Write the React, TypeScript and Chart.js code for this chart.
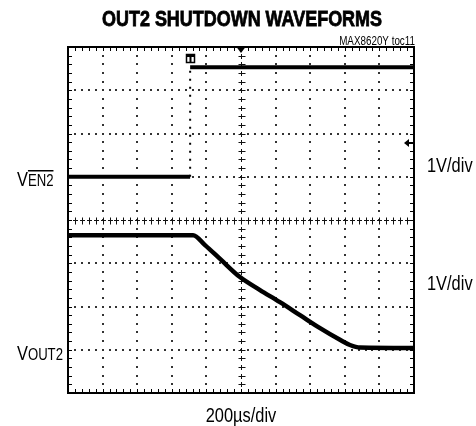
import { useEffect, useRef } from 'react';
import { Chart, registerables } from 'chart.js';

Chart.register(...registerables);

// ---- Data (time in µs from left edge of screen, values in volts) ----
const TIME_PER_DIV_US = 200;
const X_DIVS = 10;
const Y_DIVS = 8;
const VOLTS_PER_DIV = 1;

// V_EN2 channel (ground at 5 div from bottom)
const EN2_GROUND_DIV = 5;
const en2Time = [0, 706, 706, 2000];
const en2Volts = [0, 0, 2.53, 2.53];

// V_OUT2 channel (ground at 1 div from bottom)
const OUT2_GROUND_DIV = 1;
const out2Time = [0, 723, 792, 879, 994, 1110, 1225, 1341, 1457, 1572, 1630, 1688, 2000];
const out2Volts = [2.65, 2.65, 2.42, 2.1, 1.68, 1.38, 1.1, 0.8, 0.5, 0.23, 0.11, 0.05, 0.04];

// Labels
const TITLE = 'OUT2 SHUTDOWN WAVEFORMS';
const TOC = 'MAX8620Y toc11';
const X_LABEL = '200µs/div';
const SCALE_LABELS = ['1V/div', '1V/div'];

const SANS = '"Liberation Sans", Arial, sans-serif';
const NARROW_X = 0.82;

function toPoints(t: number[], v: number[], ground: number) {
  return t.map((x, i) => ({ x, y: ground + v[i] / VOLTS_PER_DIV }));
}

function narrowText(ctx: any, text: string, x: number, y: number, font: string, align: string, sx = NARROW_X, stroke = 0) {
  ctx.save();
  ctx.font = font;
  ctx.textAlign = 'left';
  const w = ctx.measureText(text).width * sx;
  let left = x;
  if (align === 'center') left = x - w / 2;
  else if (align === 'right') left = x - w;
  ctx.translate(left, y);
  ctx.scale(sx, 1);
  ctx.fillText(text, 0, 0);
  if (stroke > 0) {
    ctx.lineWidth = stroke;
    ctx.strokeStyle = '#000';
    ctx.strokeText(text, 0, 0);
  }
  ctx.restore();
  return w;
}

const scopePlugin = {
  id: 'scope',
  beforeDatasetsDraw(chart: any) {
    const { ctx, scales } = chart;
    const xs = scales.x;
    const ys = scales.y;
    const px = (d: number) => xs.getPixelForValue(d * TIME_PER_DIV_US);
    const py = (d: number) => ys.getPixelForValue(d);
    ctx.save();
    ctx.fillStyle = '#333';
    for (let i = 1; i < X_DIVS; i++) {
      if (i === X_DIVS / 2) continue;
      const x = Math.round(px(i));
      for (let k = 1; k < Y_DIVS * 5; k++) {
        const y = Math.round(py(k / 5));
        ctx.fillRect(x - 1, y - 1, 2, 2);
      }
    }
    for (let j = 1; j < Y_DIVS; j++) {
      if (j === Y_DIVS / 2) continue;
      const y = Math.round(py(j));
      for (let k = 1; k < X_DIVS * 5; k++) {
        const x = Math.round(px(k / 5));
        ctx.fillRect(x - 1, y - 1, 2, 2);
      }
    }
    ctx.strokeStyle = '#111';
    ctx.lineWidth = 1;
    const cx = Math.round(px(X_DIVS / 2)) + 0.5;
    const cy = Math.round(py(Y_DIVS / 2)) + 0.5;
    ctx.beginPath();
    for (let k = 1; k < X_DIVS * 5; k++) {
      const x = Math.round(px(k / 5)) + 0.5;
      ctx.moveTo(x, cy - 3);
      ctx.lineTo(x, cy + 4);
      ctx.moveTo(x - 2.5, cy);
      ctx.lineTo(x + 2.5, cy);
    }
    for (let k = 1; k < Y_DIVS * 5; k++) {
      const y = Math.round(py(k / 5)) + 0.5;
      ctx.moveTo(cx - 3, y);
      ctx.lineTo(cx + 4, y);
      ctx.moveTo(cx, y - 2.5);
      ctx.lineTo(cx, y + 2.5);
    }
    ctx.stroke();
    ctx.restore();
  },
  afterDatasetsDraw(chart: any) {
    const { ctx, chartArea: a, scales } = chart;
    const xs = scales.x;
    const ys = scales.y;
    const px = (d: number) => xs.getPixelForValue(d * TIME_PER_DIV_US);
    const py = (d: number) => ys.getPixelForValue(d);
    ctx.save();
    ctx.strokeStyle = '#000';
    ctx.lineWidth = 2;
    ctx.strokeRect(a.left, a.top, a.right - a.left, a.bottom - a.top);
    ctx.lineWidth = 1;
    ctx.beginPath();
    for (let k = 1; k < X_DIVS * 5; k++) {
      const x = Math.round(px(k / 5)) + 0.5;
      ctx.moveTo(x, a.top);
      ctx.lineTo(x, a.top + 4);
      ctx.moveTo(x, a.bottom);
      ctx.lineTo(x, a.bottom - 4);
    }
    for (let k = 1; k < Y_DIVS * 5; k++) {
      const y = Math.round(py(k / 5)) + 0.5;
      ctx.moveTo(a.left, y);
      ctx.lineTo(a.left + 4, y);
      ctx.moveTo(a.right, y);
      ctx.lineTo(a.right - 4, y);
    }
    ctx.stroke();

    ctx.fillStyle = '#000';
    const tx = px(X_DIVS / 2);
    ctx.beginPath();
    ctx.moveTo(tx - 4.5, a.top);
    ctx.lineTo(tx + 4.5, a.top);
    ctx.lineTo(tx, a.top + 6);
    ctx.closePath();
    ctx.fill();
    const ex = Math.round(xs.getPixelForValue(en2Time[1]));
    ctx.lineWidth = 1.5;
    ctx.strokeRect(ex - 3.5, a.top + 7.5, 8, 8);
    ctx.fillRect(ex - 3, a.top + 8, 7, 2);
    ctx.fillRect(ex - 0.5, a.top + 8, 2, 7);
    const ay = Math.round(py(EN2_GROUND_DIV + 0.78));
    ctx.beginPath();
    ctx.moveTo(a.right - 10, ay);
    ctx.lineTo(a.right - 5, ay - 4);
    ctx.lineTo(a.right - 5, ay + 4);
    ctx.closePath();
    ctx.fill();
    ctx.fillRect(a.right - 6, ay - 1, 6, 2);

    ctx.textBaseline = 'alphabetic';
    ctx.fillStyle = '#000';
    ctx.font = `bold 22px ${SANS}`;
    const tw = ctx.measureText(TITLE).width;
    narrowText(ctx, TITLE, 242, 26, `bold 22px ${SANS}`, 'center', 280 / tw, 0.8);
    narrowText(ctx, TOC, 415, 45, `12px ${SANS}`, 'right');
    narrowText(ctx, X_LABEL, 241, 422, `20px ${SANS}`, 'center');
    narrowText(ctx, SCALE_LABELS[0], 427, 172, `20px ${SANS}`, 'left');
    narrowText(ctx, SCALE_LABELS[1], 427, 290, `20px ${SANS}`, 'left');

    const wv = narrowText(ctx, 'V', 17, 186, `20px ${SANS}`, 'left');
    const we = narrowText(ctx, 'EN2', 17 + wv, 186, `16px ${SANS}`, 'left');
    ctx.fillRect(17 + wv, 170, we, 1.5);
    narrowText(ctx, 'V', 17, 360, `20px ${SANS}`, 'left');
    narrowText(ctx, 'OUT2', 17 + wv, 360, `16px ${SANS}`, 'left');
    ctx.restore();
  },
};

export default function App() {
  const ref = useRef<HTMLCanvasElement | null>(null);
  useEffect(() => {
    if (!ref.current) return;
    const chart = new Chart(ref.current, {
      type: 'line',
      data: {
        datasets: [
          {
            label: 'V_EN2',
            data: toPoints(en2Time, en2Volts, EN2_GROUND_DIV),
            borderColor: '#000',
            borderWidth: 4,
            pointRadius: 0,
            tension: 0,
            segment: {
              borderDash: (c: any) => (c.p0.parsed.x === c.p1.parsed.x ? [2, 6] : undefined),
              borderWidth: (c: any) => (c.p0.parsed.x === c.p1.parsed.x ? 2 : 4),
            },
          },
          {
            label: 'V_OUT2',
            data: toPoints(out2Time, out2Volts, OUT2_GROUND_DIV),
            borderColor: '#000',
            borderWidth: 4.5,
            pointRadius: 0,
            cubicInterpolationMode: 'monotone',
          },
        ],
      },
      options: {
        responsive: false,
        animation: false,
        parsing: false as any,
        layout: { padding: { left: 68, right: 62, top: 47, bottom: 33 } },
        plugins: { legend: { display: false }, tooltip: { enabled: false }, title: { display: false } },
        scales: {
          x: { type: 'linear', min: 0, max: X_DIVS * TIME_PER_DIV_US, display: false },
          y: { type: 'linear', min: 0, max: Y_DIVS, display: false },
        },
      },
      plugins: [scopePlugin],
    });
    return () => chart.destroy();
  }, []);
  return (
    <div style={{ position: 'absolute', left: 0, top: 0, width: 476, height: 426, background: '#fff' }}>
      <canvas ref={ref} width={476} height={426} style={{ display: 'block' }} />
    </div>
  );
}
